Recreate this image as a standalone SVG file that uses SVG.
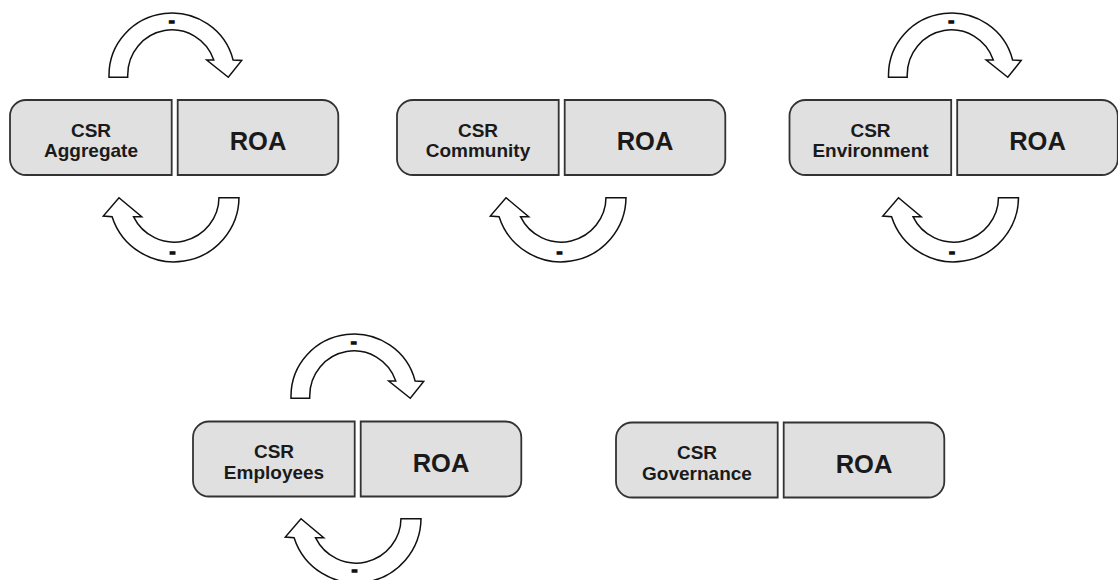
<svg xmlns="http://www.w3.org/2000/svg" xmlns:xlink="http://www.w3.org/1999/xlink" width="1118" height="580" viewBox="0 0 1118 580">
<style>
.box{fill:#e0e0e0;stroke:#333;stroke-width:1.8}
.arrow{fill:#fff;stroke:#111;stroke-width:1.5;stroke-linejoin:miter}
.lbl{font-family:"Liberation Sans",Arial,sans-serif;font-weight:bold;font-size:19px;fill:#1a1a1a;text-anchor:middle}
.roa{font-family:"Liberation Sans",Arial,sans-serif;font-weight:bold;font-size:25.5px;fill:#1a1a1a;text-anchor:middle}
.sign{font-family:"Liberation Sans",Arial,sans-serif;font-weight:bold;font-size:18px;fill:#111;stroke:#111;stroke-width:1.3;text-anchor:middle}
</style>
<defs>
<path id="boxL" d="M26,100 H171.7 V175 H26 A16,16 0 0 1 10,159 V116 A16,16 0 0 1 26,100 Z"/>
<path id="boxR" d="M177.7,100 H322.3 A16,16 0 0 1 338.3,116 V159 A16,16 0 0 1 322.3,175 H177.7 Z"/>
<path id="arrTop" d="M109,77.3 L109,75 A63,62 0 0 1 233.1,60 L241.7,60.5 L228.3,77.3 L206.7,60 L213.8,60 A44.3,45 0 0 0 127.7,75 L127.7,77.3 Z"/>
<path id="arrBot" d="M219,197.7 L239,197.7 L239,197 A65,65 0 0 1 112.1,216.7 L103.3,216 L119,197.7 L141.7,216.7 L133.5,216.7 A45,45 0 0 0 219,197 Z"/>
</defs>

<g id="connectors">
  <g transform="translate(0,0)">
    <use xlink:href="#arrTop" class="arrow"/>
    <text class="sign" x="171.7" y="27">-</text>
    <use xlink:href="#arrBot" class="arrow"/>
    <text class="sign" x="172.5" y="257.7">-</text>
  </g>
  <g transform="translate(387,0)">
    <use xlink:href="#arrBot" class="arrow"/>
    <text class="sign" x="172.5" y="257.7">-</text>
  </g>
  <g transform="translate(779.5,0)">
    <use xlink:href="#arrTop" class="arrow"/>
    <text class="sign" x="171.7" y="27">-</text>
    <use xlink:href="#arrBot" class="arrow"/>
    <text class="sign" x="172.5" y="257.7">-</text>
  </g>
  <g transform="translate(182,321)">
    <use xlink:href="#arrTop" class="arrow"/>
    <text class="sign" x="171.7" y="27">-</text>
    <use xlink:href="#arrBot" class="arrow"/>
    <text class="sign" x="172.5" y="254.7">-</text>
  </g>
</g>

<g id="csr-aggregate"><use xlink:href="#boxL" class="box"/><text class="lbl" x="91" y="136.5">CSR</text><text class="lbl" x="91" y="157">Aggregate</text></g>
<g id="roa-aggregate"><use xlink:href="#boxR" class="box"/><text class="roa" x="258" y="150">ROA</text></g>

<g id="csr-community" transform="translate(387,0)"><use xlink:href="#boxL" class="box"/><text class="lbl" x="91" y="136.5">CSR</text><text class="lbl" x="91" y="157">Community</text></g>
<g id="roa-community" transform="translate(387,0)"><use xlink:href="#boxR" class="box"/><text class="roa" x="258" y="150">ROA</text></g>

<g id="csr-environment" transform="translate(779.5,0)"><use xlink:href="#boxL" class="box"/><text class="lbl" x="91" y="136.5">CSR</text><text class="lbl" x="91" y="157">Environment</text></g>
<g id="roa-environment" transform="translate(779.5,0)"><use xlink:href="#boxR" class="box"/><text class="roa" x="258" y="150">ROA</text></g>

<g id="csr-employees" transform="translate(183,321.5)"><use xlink:href="#boxL" class="box"/><text class="lbl" x="91" y="136.5">CSR</text><text class="lbl" x="91" y="157">Employees</text></g>
<g id="roa-employees" transform="translate(183,321.5)"><use xlink:href="#boxR" class="box"/><text class="roa" x="258" y="150">ROA</text></g>

<g id="csr-governance" transform="translate(606,322.5)"><use xlink:href="#boxL" class="box"/><text class="lbl" x="91" y="136.5">CSR</text><text class="lbl" x="91" y="157">Governance</text></g>
<g id="roa-governance" transform="translate(606,322.5)"><use xlink:href="#boxR" class="box"/><text class="roa" x="258" y="150">ROA</text></g>
</svg>
